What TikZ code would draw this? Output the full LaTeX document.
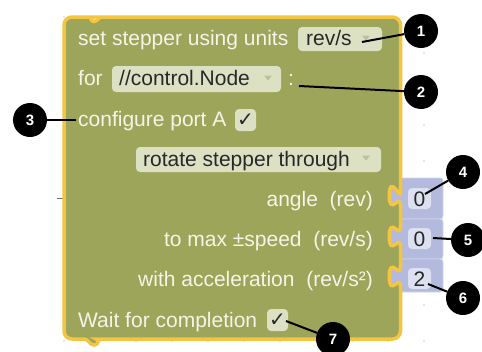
\documentclass[tikz,border=0pt]{standalone}
\usepackage{fontspec}
\setmainfont{Liberation Sans}
\newfontfamily\symfont{DejaVu Sans}
\definecolor{blkolive}{RGB}{157,165,90}
\definecolor{blkedge}{RGB}{244,197,64}
\definecolor{ddfill}{RGB}{221,225,196}
\definecolor{ddarrow}{RGB}{185,192,154}
\definecolor{lbltext}{RGB}{244,245,232}
\definecolor{darktext}{RGB}{40,40,40}
\definecolor{valblue}{RGB}{180,186,221}
\definecolor{valedge}{RGB}{208,212,236}
\definecolor{valfield}{RGB}{221,224,241}
\definecolor{griddot}{RGB}{205,207,216}
\tikzset{
  lbl/.style={inner sep=0pt, text=lbltext, font=\fontsize{21}{24}\selectfont},
  ddtext/.style={inner sep=0pt, text=darktext, font=\fontsize{21}{24}\selectfont},
  ddbox/.style={fill=ddfill, rounded corners=4pt},
  ddarr/.style={fill=ddarrow},
  chk/.style={inner sep=0pt, text=darktext, font=\symfont\fontsize{20}{20}\selectfont},
  valblk/.style={fill=valblue, draw=valedge, line width=0.8pt, rounded corners=3pt},
  valfld/.style={fill=valfield, rounded corners=4pt},
  callout/.style={circle, fill=black, text=white, minimum size=34pt, inner sep=0pt,
    font=\bfseries\fontsize{15}{15}\selectfont},
  leader/.style={draw=black, line width=2pt},
}
\begin{document}
\begin{tikzpicture}[x=1pt,y=-1pt]
\useasboundingbox[fill=white] (0,0) rectangle (482,351);
% workspace grid dots
\foreach \gx in {64,100,...,425} {
  \foreach \gy in {17,53,...,341} {
    \fill[griddot] (\gx,\gy) circle (0.9pt);
  }
}
\draw[darktext!70, line width=1.2pt] (57,198.5) -- (63,198.5);
% value blocks (behind main block)
\draw[valblk] (390,178) rectangle (443,219);
\draw[valblk] (390,219) rectangle (443,259);
\draw[valblk] (390,259) rectangle (443,292);
% main block
\draw[draw=blkedge, fill=blkolive, line width=3.5pt, rounded corners=8pt]
  (64,60) -- (64,17) -- (86,17) [sharp corners]
  .. controls (90,17) and (90,21.5) .. (94,21.5)
  .. controls (98,21.5) and (98,17) .. (102,17)
  [rounded corners=8pt] -- (400.5,17) -- (400.5,185) [sharp corners]
  .. controls (400.5,199) and (389.3,173.8) .. (389.3,195.5)
  .. controls (389.3,217.2) and (400.5,192) .. (400.5,206)
  -- (400.5,226)
  .. controls (400.5,240) and (389.3,214.8) .. (389.3,236.5)
  .. controls (389.3,258.2) and (400.5,233) .. (400.5,247)
  -- (400.5,266)
  .. controls (400.5,280) and (389.3,254.8) .. (389.3,276.5)
  .. controls (389.3,298.2) and (400.5,273) .. (400.5,287)
  [rounded corners=8pt] -- (400.5,339) -- (104,339) [sharp corners]
  .. controls (99,339) and (99,345) .. (94,345)
  .. controls (89,345) and (89,339) .. (84,339)
  [rounded corners=8pt] -- (64,339) -- cycle;
% row 1
\node[lbl, anchor=base west] (t1) at (78,45) {set stepper using units};
\fill[ddbox] (298,27) rectangle (382,51);
\node[ddtext, anchor=base west] (d1) at (306,45) {rev/s};
\fill[ddarr] (362,35.5) -- (370,35.5) -- (366,40.5) -- cycle;
% row 2
\node[lbl, anchor=base west] (t2) at (78,85) {for};
\fill[ddbox] (112,66) rectangle (281,92);
\node[ddtext, anchor=base west] (d2) at (119,85) {//control.Node};
\fill[ddarr] (264,75.5) -- (272,75.5) -- (268,80.5) -- cycle;
\node[lbl, anchor=base west] (colon) at (288,85) {:};
% row 3
\node[lbl, anchor=base west] (t3) at (78,126) {configure port A};
\fill[ddbox] (235,109) rectangle (256,131);
\node[chk] (k1) at (245.5,120.5) {✓};
% row 4
\fill[ddbox] (136,147) rectangle (381,172);
\node[ddtext, anchor=base west] (d4) at (143,166) {rotate stepper through};
\fill[ddarr] (362,155.5) -- (370,155.5) -- (366,160.5) -- cycle;
% rows 5-7
\node[lbl, anchor=base east] (t5) at (373,206) {angle~~(rev)};
\node[lbl, anchor=base east] (t6) at (373,246) {to max ±speed~~(rev/s)};
\node[lbl, anchor=base east] (t7) at (373,286) {with acceleration~~(rev/s²)};
\fill[valfld] (408,188) rectangle (431,209);
\fill[valfld] (408,228) rectangle (431,249);
\fill[valfld] (408,268) rectangle (431,289);
\node[ddtext, anchor=base] (v1) at (419.5,206) {0};
\node[ddtext, anchor=base] (v2) at (419.5,246) {0};
\node[ddtext, anchor=base] (v3) at (419.5,286) {2};
% row 8
\node[lbl, anchor=base west] (t8) at (78,327) {Wait for completion};
\fill[ddbox] (267,309) rectangle (288,331);
\node[chk] (k2) at (277.5,320.5) {✓};
% callouts
\node[callout] (c1) at (421,31) {1};
\node[callout] (c2) at (421,92) {2};
\node[callout] (c3) at (30,120) {3};
\node[callout] (c4) at (463,172) {4};
\node[callout] (c5) at (468,240) {5};
\node[callout] (c6) at (463,298) {6};
\node[callout] (c7) at (333,339) {7};
\coordinate (p1) at (362,42);
\coordinate (p2) at (299,86);
\coordinate (p3) at (76,120);
\coordinate (p4) at (425,194);
\coordinate (p5) at (433,238);
\coordinate (p6) at (428,284);
\coordinate (p7) at (286,321);
\draw[leader] (p1) -- (c1);
\draw[leader] (p2) -- (c2);
\draw[leader] (p3) -- (c3);
\draw[leader] (p4) -- (c4);
\draw[leader] (p5) -- (c5);
\draw[leader] (p6) -- (c6);
\draw[leader] (p7) -- (c7);
\end{tikzpicture}
\end{document}
